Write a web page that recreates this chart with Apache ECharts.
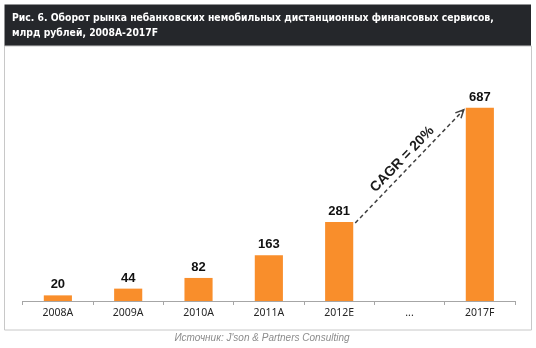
<!DOCTYPE html>
<html>
<head>
<meta charset="utf-8">
<script src="https://cdn.jsdelivr.net/npm/echarts@6/dist/echarts.min.js"></script>
<style>
html,body{margin:0;padding:0;background:#fff;}
#c{width:536px;height:348px;}
</style>
</head>
<body>
<div id="c"></div>
<script>
const titleLines = ['Рис. 6. Оборот рынка небанковских немобильных дистанционных финансовых сервисов,', 'млрд рублей, 2008A-2017F'];
const categories = ['2008A', '2009A', '2010A', '2011A', '2012E', '...', '2017F'];
const values = [20, 44, 82, 163, 281, null, 687];
const cagrText = 'CAGR = 20%';
const cagrFrom = ['2012E', 281];
const cagrTo = ['2017F', 687];
const sourceText = 'Источник: J\'son & Partners Consulting';

const chart = echarts.init(document.getElementById('c'), null, {renderer: 'canvas'});
const BAR_COLOR = '#F98E2B';

const baseGraphics = [
  {type: 'rect', z: 0, shape: {x: 4.5, y: 4.5, width: 526.5, height: 41.5}, style: {fill: '#25272b'}},
  {type: 'rect', z: 0, shape: {x: 4.5, y: 46, width: 527, height: 284}, style: {fill: 'none', stroke: '#c8c8c8', lineWidth: 1}},
  {type: 'text', z: 1, x: 262, y: 338, style: {text: sourceText, fill: '#8c8c8c', font: 'italic 10px "Liberation Sans"', textAlign: 'center', textVerticalAlign: 'middle'}}
];

const option = {
  animation: false,
  backgroundColor: '#ffffff',
  title: {
    text: titleLines.join('\n'),
    left: 8,
    top: 11,
    padding: [0, 0, 0, 4],
    textStyle: {
      color: '#ffffff',
      fontFamily: 'DejaVu Sans Condensed',
      fontWeight: 'bold',
      fontSize: 10.3,
      lineHeight: 14.6
    },
    z: 10
  },
  grid: {left: 22.7, right: 21, top: 76, bottom: 47},
  xAxis: {
    type: 'category',
    data: categories,
    axisLine: {lineStyle: {color: '#a6a6a6', width: 1}},
    axisTick: {show: true, length: 4, lineStyle: {color: '#a6a6a6'}},
    axisLabel: {color: '#262626', fontSize: 10.5, fontFamily: 'Noto Sans', margin: 7}
  },
  yAxis: {
    type: 'value',
    min: 0,
    max: 800,
    show: false,
    splitLine: {show: false}
  },
  series: [{
    type: 'bar',
    data: values,
    barWidth: '40%',
    itemStyle: {color: BAR_COLOR},
    label: {
      show: true,
      position: 'top',
      distance: 4,
      color: '#111111',
      fontWeight: 'bold',
      fontSize: 13,
      fontFamily: 'Liberation Sans'
    }
  }],
  graphic: baseGraphics
};
chart.setOption(option);

// CAGR arrow, positioned from data via the chart's own scales
const p1 = chart.convertToPixel({seriesIndex: 0}, cagrFrom);
const p2 = chart.convertToPixel({seriesIndex: 0}, cagrTo);
const bandW = (chart.convertToPixel({xAxisIndex: 0}, categories[1]) - chart.convertToPixel({xAxisIndex: 0}, categories[0]));
const half = bandW * 0.4 / 2;
const sx = p1[0] + half + 2, sy = p1[1] + 1;
const ex = p2[0] - half - 2, ey = p2[1] + 2;
const ang = Math.atan2(ey - sy, ex - sx);
const hl = 9, ha = 0.45;
const h1 = [ex - hl * Math.cos(ang - ha), ey - hl * Math.sin(ang - ha)];
const h2 = [ex - hl * Math.cos(ang + ha), ey - hl * Math.sin(ang + ha)];
const mx = (sx + ex) / 2, my = (sy + ey) / 2;
const nx = Math.sin(ang), ny = -Math.cos(ang);
const off = 10;
chart.setOption({
  graphic: baseGraphics.concat([
    {type: 'line', z: 5, shape: {x1: sx, y1: sy, x2: ex, y2: ey}, style: {stroke: '#404040', lineWidth: 1.5, lineDash: [4, 3]}},
    {type: 'polyline', z: 5, shape: {points: [h1, [ex, ey], h2]}, style: {stroke: '#404040', lineWidth: 1.5, fill: 'none'}},
    {type: 'text', z: 5, x: mx + nx * off, y: my + ny * off, rotation: -ang,
      style: {text: cagrText, fill: '#1a1a1a', font: 'bold 14px "Liberation Sans"', textAlign: 'center', textVerticalAlign: 'middle'}}
  ])
}, {replaceMerge: ['graphic']});
</script>
</body>
</html>
